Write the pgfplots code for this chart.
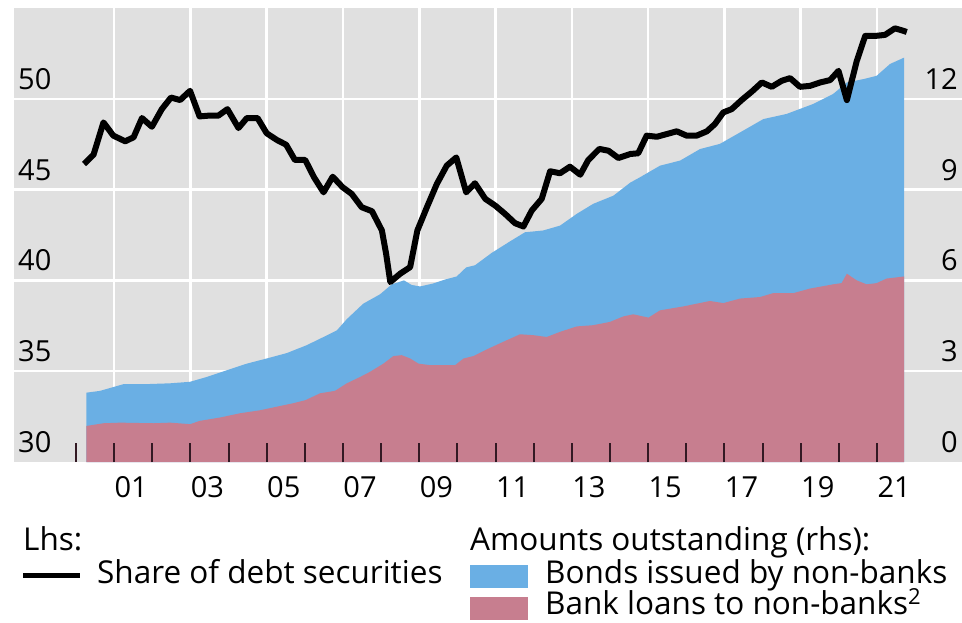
\documentclass[border=0pt]{standalone}
\usepackage{fontspec}
\setmainfont{Open Sans}
\usepackage{pgfplots}
\pgfplotsset{compat=1.18}
\definecolor{bggray}{RGB}{224,224,224}
\definecolor{bisblue}{RGB}{106,175,228}
\definecolor{bispink}{RGB}{199,126,143}
\definecolor{tickcol}{RGB}{50,25,35}
\newcommand\tickfont{\fontsize{29}{34}\selectfont}
\newcommand\legfont{\fontsize{31.5}{37}\selectfont}

\begin{document}
\begin{tikzpicture}
\useasboundingbox (0,0) rectangle (962pt,622pt);
% ---- right axis: background, grid, areas
\begin{axis}[
  at={(14pt,160pt)}, anchor=south west,
  width=948pt, height=454pt, scale only axis,
  xmin=1998.375, xmax=2023.228,
  ymin=0, ymax=15,
  axis background/.style={fill=bggray},
  axis line style={draw=none},
  xtick={2001,2003,2005,2007,2009,2011,2013,2015,2017,2019,2021}, xticklabels={},
  ytick={3,6,9,12}, yticklabels={3,6,9,12},
  extra y ticks={0}, extra y tick labels={0}, extra y tick style={grid=none},
  xmajorgrids, ymajorgrids,
  grid style={white, line width=2.5pt},
  major tick length=0pt,
  tick style={draw=none},
  ytick pos=right, yticklabel pos=right,
  yticklabel style={anchor=south east, xshift=-4pt, yshift=9pt, inner sep=0pt, font=\tickfont},
]
\addplot[fill=bisblue, draw=none] coordinates {
(2000.27,2.29)(2000.63,2.35)(2001.24,2.57)(2001.77,2.57)(2002.47,2.60)(2002.99,2.65)(2003.43,2.81)(2003.95,3.03)(2004.48,3.25)(2005.00,3.42)(2005.53,3.60)(2006.05,3.86)(2006.49,4.13)(2006.84,4.35)(2007.10,4.72)(2007.53,5.23)(2007.97,5.54)(2008.28,5.87)(2008.60,6.00)(2008.80,5.85)(2009.02,5.80)(2009.37,5.90)(2009.68,6.03)(2009.98,6.13)(2010.23,6.43)(2010.46,6.50)(2010.90,6.91)(2011.38,7.29)(2011.77,7.59)(2012.25,7.65)(2012.69,7.81)(2013.13,8.20)(2013.56,8.53)(2014.09,8.80)(2014.53,9.23)(2014.79,9.41)(2015.31,9.79)(2015.84,9.96)(2016.36,10.34)(2016.88,10.51)(2017.41,10.89)(2018.02,11.33)(2018.63,11.50)(2019.33,11.83)(2019.85,12.16)(2020.21,12.54)(2020.64,12.65)(2020.99,12.76)(2021.34,13.15)(2021.71,13.36)
} \closedcycle;
\addplot[fill=bispink, draw=none] coordinates {
(2000.27,1.19)(2000.72,1.28)(2001.16,1.30)(2002.03,1.28)(2002.47,1.30)(2002.99,1.25)(2003.25,1.36)(2003.78,1.47)(2004.30,1.61)(2004.83,1.71)(2005.35,1.85)(2005.69,1.94)(2006.01,2.04)(2006.40,2.27)(2006.79,2.35)(2007.10,2.60)(2007.45,2.81)(2007.71,2.98)(2008.06,3.25)(2008.32,3.50)(2008.54,3.53)(2008.76,3.42)(2008.98,3.25)(2009.28,3.20)(2009.63,3.20)(2009.94,3.20)(2010.16,3.42)(2010.42,3.50)(2010.77,3.72)(2011.20,3.97)(2011.64,4.22)(2011.99,4.19)(2012.34,4.13)(2012.69,4.30)(2013.13,4.48)(2013.56,4.52)(2014.00,4.63)(2014.35,4.81)(2014.61,4.88)(2015.01,4.77)(2015.31,5.01)(2015.92,5.14)(2016.62,5.32)(2016.97,5.25)(2017.41,5.40)(2017.93,5.45)(2018.28,5.58)(2018.81,5.58)(2019.24,5.73)(2019.85,5.87)(2020.07,5.91)(2020.21,6.22)(2020.47,6.00)(2020.73,5.87)(2020.99,5.91)(2021.25,6.06)(2021.71,6.13)
} \closedcycle;
\end{axis}
% ---- left axis: share line, ticks, labels
\begin{axis}[
  at={(14pt,160pt)}, anchor=south west,
  width=948pt, height=454pt, scale only axis,
  xmin=1998.375, xmax=2023.228,
  ymin=30, ymax=55,
  axis line style={draw=none},
  axis on top,
  xtick={2000,2001,...,2021}, xticklabels={},
  extra x ticks={2001.5,2003.5,2005.5,2007.5,2009.5,2011.5,2013.5,2015.5,2017.5,2019.5,2021.5},
  extra x tick labels={01,03,05,07,09,11,13,15,17,19,21},
  extra x tick style={major tick length=0pt},
  xticklabel style={anchor=base, yshift=-35pt, xshift=-2pt, inner sep=0pt, font=\tickfont},
  xtick pos=left,
  major tick length=19pt,
  xtick style={tickcol, line width=2pt},
  ytick={30,35,40,45,50}, yticklabels={30,35,40,45,50},
  ytick style={draw=none},
  ytick pos=left, yticklabel pos=left,
  yticklabel style={anchor=south west, xshift=4pt, yshift=9pt, inner sep=0pt, font=\tickfont},
]
\addplot[black, line width=6pt, line join=round] coordinates {
(2000.21,46.41)(2000.46,46.92)(2000.72,48.70)(2000.98,47.97)(2001.29,47.66)(2001.51,47.88)(2001.73,48.94)(2001.99,48.46)(2002.25,49.43)(2002.49,50.07)(2002.73,49.93)(2002.99,50.44)(2003.24,49.03)(2003.47,49.07)(2003.73,49.07)(2003.97,49.43)(2004.26,48.39)(2004.48,48.94)(2004.76,48.94)(2005.00,48.10)(2005.27,47.73)(2005.51,47.47)(2005.74,46.63)(2006.01,46.63)(2006.24,45.68)(2006.49,44.85)(2006.73,45.71)(2006.99,45.13)(2007.23,44.76)(2007.49,44.03)(2007.76,43.81)(2008.02,42.75)(2008.13,41.47)(2008.24,39.91)(2008.50,40.37)(2008.76,40.73)(2008.95,42.75)(2009.20,44.03)(2009.46,45.31)(2009.72,46.32)(2009.97,46.77)(2010.23,44.85)(2010.46,45.35)(2010.73,44.49)(2010.99,44.12)(2011.25,43.66)(2011.51,43.15)(2011.73,42.97)(2011.95,43.85)(2012.21,44.49)(2012.43,46.01)(2012.69,45.90)(2012.95,46.26)(2013.22,45.82)(2013.43,46.63)(2013.72,47.24)(2013.96,47.14)(2014.22,46.74)(2014.53,46.96)(2014.74,47.00)(2014.96,47.97)(2015.23,47.91)(2015.49,48.06)(2015.75,48.21)(2016.01,47.97)(2016.27,47.97)(2016.54,48.21)(2016.75,48.61)(2016.97,49.25)(2017.19,49.43)(2017.45,49.93)(2017.72,50.40)(2017.98,50.90)(2018.24,50.66)(2018.50,50.99)(2018.72,51.14)(2018.98,50.66)(2019.24,50.71)(2019.51,50.90)(2019.77,51.03)(2019.99,51.54)(2020.21,49.93)(2020.47,52.09)(2020.69,53.46)(2020.95,53.46)(2021.21,53.52)(2021.47,53.88)(2021.65,53.77)(2021.78,53.68)
};
\end{axis}
% ---- legend
\node[anchor=base west, inner sep=0pt, font=\legfont] at (23pt,72pt) {Lhs:};
\draw[black, line width=5pt] (23pt,47pt) -- (80pt,47pt);
\node[anchor=base west, inner sep=0pt, font=\legfont] at (97pt,39pt) {Share of debt securities};
\node[anchor=base west, inner sep=0pt, font=\legfont] at (470pt,72pt) {Amounts outstanding (rhs):};
\fill[bisblue] (470pt,34pt) rectangle (528pt,57pt);
\node[anchor=base west, inner sep=0pt, font=\legfont] at (545pt,39pt) {Bonds issued by non-banks};
\fill[bispink] (470pt,2pt) rectangle (528pt,25pt);
\node[anchor=base west, inner sep=0pt, font=\legfont] at (545pt,8pt) {Bank loans to non-banks\textsuperscript{2}};
\end{tikzpicture}
\end{document}
